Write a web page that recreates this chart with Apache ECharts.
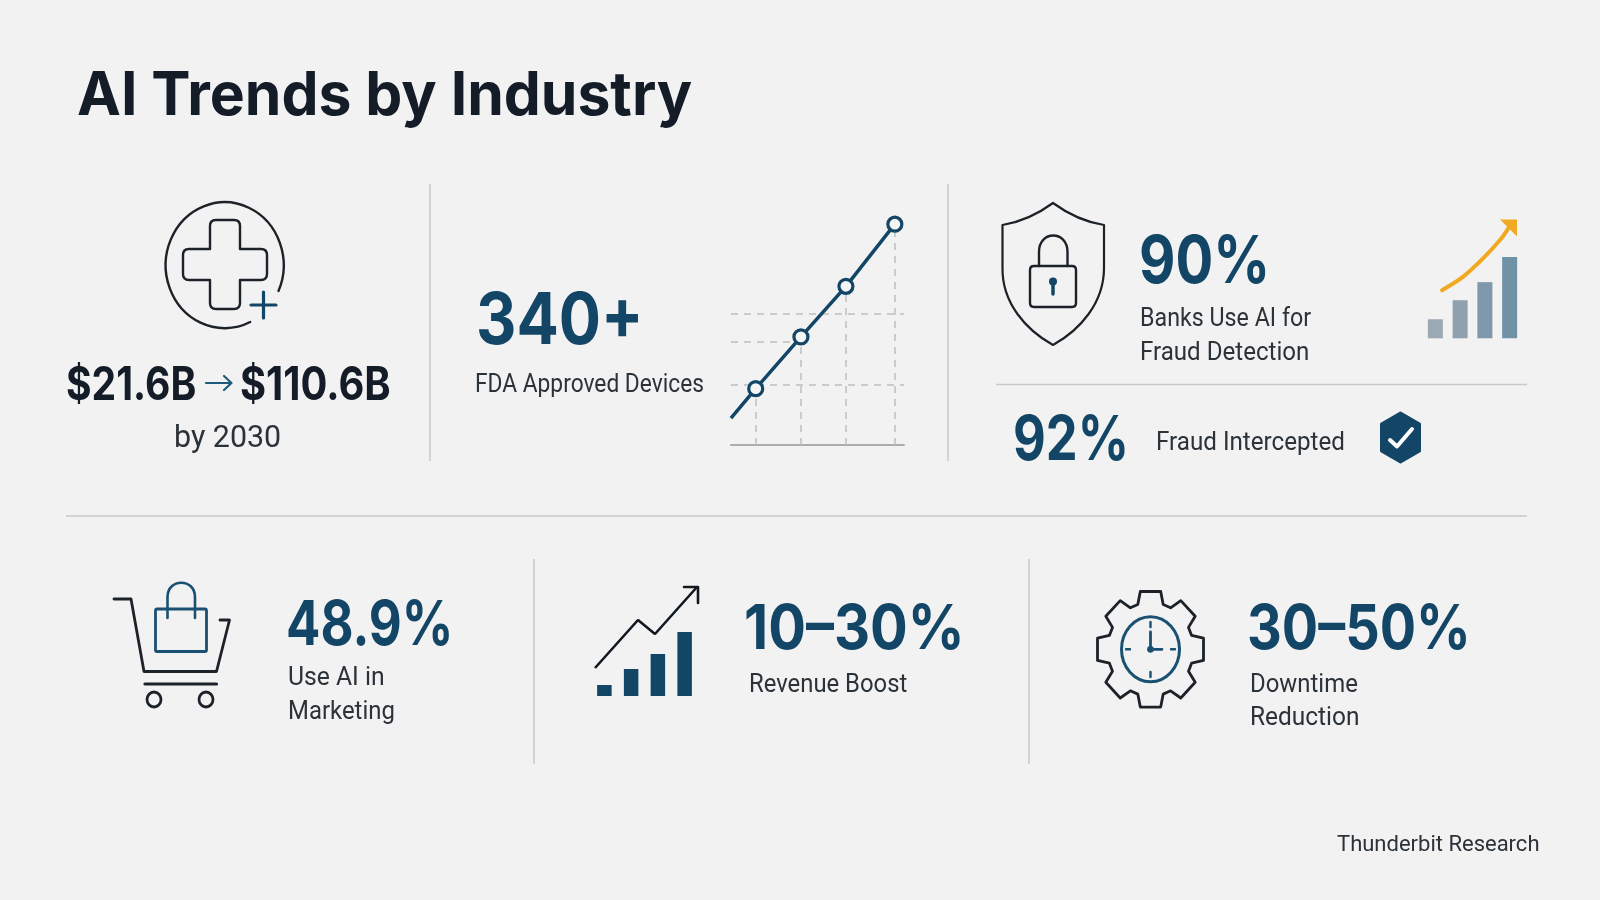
<!DOCTYPE html>
<html>
<head>
<meta charset="utf-8">
<title>AI Trends by Industry</title>
<script src="https://cdn.jsdelivr.net/npm/echarts@6/dist/echarts.min.js"></script>
<style>
html, body { margin: 0; padding: 0; background: #f2f2f3; }
#main { width: 1600px; height: 900px; }
</style>
</head>
<body>
<div id="main"></div>
<script>
// texts
var titleText = 'AI Trends by Industry';
var stats = ['$21.6B', '$110.6B', '340+', '90%', '92%', '48.9%', '10–30%', '30–50%'];
var captions = ['by 2030', 'FDA Approved Devices', 'Banks Use AI for', 'Fraud Detection', 'Fraud Intercepted',
    'Use AI in', 'Marketing', 'Revenue Boost', 'Downtime', 'Reduction'];
var sourceText = 'Thunderbit Research';

// FDA device line
var deviceX = [0, 1, 2.83, 4.65, 6.63];
var deviceY = [11.7, 24.5, 47, 69, 96];
var guideLevels = [26, 57];
var guideLevelShort = 45;

// banks bars + rising trend
var bankCats = ['a', 'b', 'c', 'd'];
var bankBars = [19, 38, 56, 81];
var bankColors = ['#9ca8b3', '#8fa0af', '#7f98ab', '#6f92a7'];
var bankTrendX = [19, 40.3, 60.3, 77, 85.5];
var bankTrendY = [48, 61.6, 80, 98, 110];

// revenue bars + zigzag
var revenueCats = ['a', 'b', 'c', 'd'];
var revenueBars = [11, 27, 42, 64];
var revenueLineX = [4, 47, 64, 106];
var revenueLineY = [28, 76, 62, 109];

var NAVY = '#134666';
var INK = '#141c28';
var BODY = '#2b3238';
var RULE = '#c6cacc';

function pairs(xs, ys) {
    return xs.map(function (x, i) { return [x, ys[i]]; });
}

// sx squeezes the text sideways, the reference type is narrower than the installed fonts
function text(str, x, y, size, weight, color, sx, family) {
    return {
        type: 'text', silent: true, x: x, y: y, scaleX: sx || 1,
        style: {
            text: str, x: 0, y: 0, fill: color, verticalAlign: 'middle',
            font: weight + ' ' + size + 'px ' + (family || 'Inter')
        }
    };
}

function caption(str, x, y, size, sx) {
    return text(str, x, y, size, 400, BODY, sx, 'Roboto');
}

function rule(x1, y1, x2, y2) {
    return { type: 'line', silent: true, shape: { x1: x1, y1: y1, x2: x2, y2: y2 }, style: { stroke: RULE, lineWidth: 1.5 } };
}

function path(d, color, width, fill) {
    return {
        type: 'path', silent: true, shape: { pathData: d },
        style: { stroke: color, lineWidth: width, fill: fill || 'none', lineJoin: 'round', lineCap: 'round' }
    };
}

function gearPath(cx, cy, rOut, rIn, sy) {
    var d = '';
    for (var i = 0; i < 8; i++) {
        var a = (i * 45 - 90) * Math.PI / 180;
        var pts = [[rIn, -0.30], [rOut, -0.19], [rOut, 0.19], [rIn, 0.30]];
        pts.forEach(function (p, j) {
            var px = cx + p[0] * Math.cos(a + p[1]);
            var py = cy + p[0] * sy * Math.sin(a + p[1]);
            d += ((i === 0 && j === 0) ? 'M' : 'L') + px.toFixed(1) + ' ' + py.toFixed(1) + ' ';
        });
    }
    return d + 'Z';
}

var graphics = [
    text(titleText, 77, 97, 60, 700, INK, 0.98),

    rule(430, 184, 430, 461),
    rule(948, 184, 948, 461),
    rule(996, 384.5, 1527, 384.5),
    rule(66, 516, 1527, 516),
    rule(534, 559, 534, 764),
    rule(1029, 559, 1029, 764),

    text(stats[0], 66, 386, 46, 700, INK, 0.85),
    text(stats[1], 240, 386, 46, 700, INK, 0.867),
    caption(captions[0], 174, 439, 32, 0.95),

    text(stats[2], 476, 322, 72, 700, NAVY, 0.87),
    caption(captions[1], 475, 385.5, 25, 0.91),

    { type: 'circle', silent: true, shape: { cx: 1053, cy: 281.5, r: 4 }, style: { fill: NAVY } },

    text(stats[3], 1139, 263, 66, 700, NAVY, 0.85),
    caption(captions[2], 1140, 319, 26, 0.894),
    caption(captions[3], 1140, 353, 26, 0.927),
    text(stats[4], 1013, 441, 62, 700, NAVY, 0.815),
    caption(captions[4], 1156, 443, 26, 0.93),

    { type: 'ellipse', silent: true, shape: { cx: 154, cy: 699.5, rx: 7, ry: 7.5 }, style: { stroke: '#1c2228', lineWidth: 2.8, fill: 'none' } },
    { type: 'ellipse', silent: true, shape: { cx: 206, cy: 699.5, rx: 7, ry: 7.5 }, style: { stroke: '#1c2228', lineWidth: 2.8, fill: 'none' } },

    text(stats[5], 286, 626, 62, 700, NAVY, 0.82),
    caption(captions[5], 288, 678, 26, 0.95),
    caption(captions[6], 288, 712, 26, 0.92),

    text(stats[6], 744, 630, 62, 700, NAVY, 0.903),
    caption(captions[7], 749, 685.5, 26, 0.917),

    { type: 'ellipse', silent: true, shape: { cx: 1150.5, cy: 649.3, rx: 29, ry: 32.5 }, style: { stroke: '#1a5071', lineWidth: 3, fill: 'none' } },
    { type: 'circle', silent: true, shape: { cx: 1150.5, cy: 649.3, r: 3.4 }, style: { fill: '#1a5071' } },

    text(stats[7], 1247, 630, 62, 700, NAVY, 0.87),
    caption(captions[8], 1250, 685.5, 26, 0.92),
    caption(captions[9], 1250, 718.5, 26, 0.94),

    caption(sourceText, 1337, 845, 22, 1)
];

// icon outlines, drawn by one custom series because the graphic component has no svg path type
var iconPaths = [
    // health
    path('M278.5 291 A59 63 0 1 0 250.2 322', '#1c2228', 2.4),
    path('M216 220 L234 220 Q240 220 240 226 L240 249 L261 249 Q267 249 267 255 L267 274 Q267 280 261 280 L240 280 L240 303 Q240 309 234 309 L216 309 Q210 309 210 303 L210 280 L189 280 Q183 280 183 274 L183 255 Q183 249 189 249 L210 249 L210 226 Q210 220 216 220 Z', '#1c2228', 2.4),
    path('M251 305 L276 305 M263.5 292 L263.5 318', NAVY, 3.2),
    path('M206 383 L231 383 M224 376 L231.5 383 L224 390', '#1d5a7c', 2.2),
    // shield
    path('M1053 203 C1068 214 1085 222 1104 225 L1104 268 C1104 303 1080 330 1053 345 C1026 330 1002 303 1002.5 268 L1002.5 225 C1021 222 1038 214 1053 203 Z', '#1c2228', 2.2),
    path('M1039 266 L1039 252 C1039 230 1067.5 230 1067.5 252 L1067.5 266', '#1c2228', 2.4),
    path('M1034 266 L1072 266 Q1076 266 1076 270 L1076 303 Q1076 307 1072 307 L1034 307 Q1030 307 1030 303 L1030 270 Q1030 266 1034 266 Z', '#1c2228', 2.4),
    path('M1053 282 L1053 294', NAVY, 3.5),
    // badge
    path('M1400.5 413 L1419.5 424 L1419.5 451 L1400.5 462 L1381.5 451 L1381.5 424 Z', NAVY, 3, NAVY),
    path('M1390 440 L1397 446.5 L1412 429', '#ffffff', 4),
    // cart
    path('M114 599 L131 599 L144 671.5 L216.5 671.5 L229.5 620 L220 620', '#1c2228', 2.8),
    path('M145 684 L216.5 684', '#1c2228', 3.2),
    path('M157 609 L205 609 Q206.5 609 206.5 611 L206.5 650 Q206.5 651.5 205 651.5 L157 651.5 Q155.5 651.5 155.5 650 L155.5 611 Q155.5 609 157 609 Z', '#1a5071', 2.8),
    path('M167.5 618 L167.5 597 C167.5 578 195 578 195 597 L195 618', '#1a5071', 2.6),
    // arrow head of the zigzag
    path('M684 587 L698 587 L698 603', '#111820', 2.6),
    // gear + clock
    path(gearPath(1150.5, 649.3, 54, 43, 1.09), '#1c2228', 2.8),
    path('M1150.5 622 L1150.5 627 M1150.5 672 L1150.5 677 M1126 649.3 L1130 649.3 M1171 649.3 L1175 649.3', '#1a5071', 2.4),
    path('M1150.5 632 L1150.5 649.3 L1162 649.3', '#1a5071', 2.8)
];

var guideData = guideLevels.map(function (v) {
    return [{ coord: [0, v] }, { coord: [7, v] }];
});
guideData.push([{ coord: [0, guideLevelShort] }, { coord: [deviceX[2], guideLevelShort] }]);
deviceX.slice(1).forEach(function (x, i) {
    guideData.push([{ coord: [x, 0] }, { coord: [x, deviceY[i + 1]] }]);
});

var deviceData = pairs(deviceX, deviceY).map(function (p, i) {
    return { value: p, symbol: i === 0 ? 'none' : 'circle' };
});

var bankTrend = pairs(bankTrendX, bankTrendY).map(function (p, i) {
    return i === bankTrendX.length - 1
        ? { value: p, symbol: 'path://M0 0L10 0L10 10Z', symbolSize: 17 }
        : { value: p, symbol: 'none' };
});

var option = {
    animation: false,
    backgroundColor: '#f2f2f3',
    grid: [
        { left: 731, top: 215, width: 173, height: 230 },
        { left: 1423, top: 215, width: 99, height: 123.3 },
        { left: 591, top: 586, width: 107, height: 110 }
    ],
    xAxis: [
        {
            gridIndex: 0, type: 'value', min: 0, max: 7,
            axisLine: { show: true, lineStyle: { color: '#a9adb0', width: 2 } },
            axisTick: { show: false }, axisLabel: { show: false }, splitLine: { show: false }
        },
        { gridIndex: 1, type: 'category', data: bankCats, show: false },
        { gridIndex: 1, type: 'value', min: 0, max: 99, show: false },
        { gridIndex: 2, type: 'category', data: revenueCats, show: false },
        { gridIndex: 2, type: 'value', min: 0, max: 107, show: false }
    ],
    yAxis: [
        { gridIndex: 0, type: 'value', min: 0, max: 100, show: false },
        { gridIndex: 1, type: 'value', min: 0, max: 123, show: false },
        { gridIndex: 2, type: 'value', min: 0, max: 110, show: false }
    ],
    graphic: { elements: graphics },
    series: [
        {
            type: 'custom', coordinateSystem: 'none', silent: true, data: [[0]],
            renderItem: function () {
                return { type: 'group', children: iconPaths };
            }
        },
        {
            type: 'line', xAxisIndex: 0, yAxisIndex: 0, data: [], z: 1,
            markLine: {
                silent: true, symbol: 'none', z: 1,
                label: { show: false },
                lineStyle: { type: [7, 6], color: '#bcc0c2', width: 1.5 },
                data: guideData
            }
        },
        {
            type: 'line', xAxisIndex: 0, yAxisIndex: 0, z: 3, clip: false,
            data: deviceData, symbolSize: 14,
            lineStyle: { color: NAVY, width: 3.5 },
            itemStyle: { color: '#f4f5f5', borderColor: NAVY, borderWidth: 3.2 }
        },
        {
            type: 'bar', xAxisIndex: 1, yAxisIndex: 1, barWidth: 15,
            data: bankBars.map(function (v, i) {
                return { value: v, itemStyle: { color: bankColors[i] } };
            })
        },
        {
            type: 'line', xAxisIndex: 2, yAxisIndex: 1, z: 4, smooth: 0.3, clip: false,
            data: bankTrend,
            lineStyle: { color: '#f2a922', width: 4, cap: 'round' },
            itemStyle: { color: '#f2a922' }
        },
        {
            type: 'bar', xAxisIndex: 3, yAxisIndex: 2, barWidth: 14.5,
            data: revenueBars, itemStyle: { color: NAVY }
        },
        {
            type: 'line', xAxisIndex: 4, yAxisIndex: 2, z: 4, clip: false,
            data: pairs(revenueLineX, revenueLineY), symbol: 'none',
            lineStyle: { color: '#111820', width: 2.6 }
        }
    ]
};

var myChart = echarts.init(document.getElementById('main'));
myChart.setOption(option);
</script>
</body>
</html>
